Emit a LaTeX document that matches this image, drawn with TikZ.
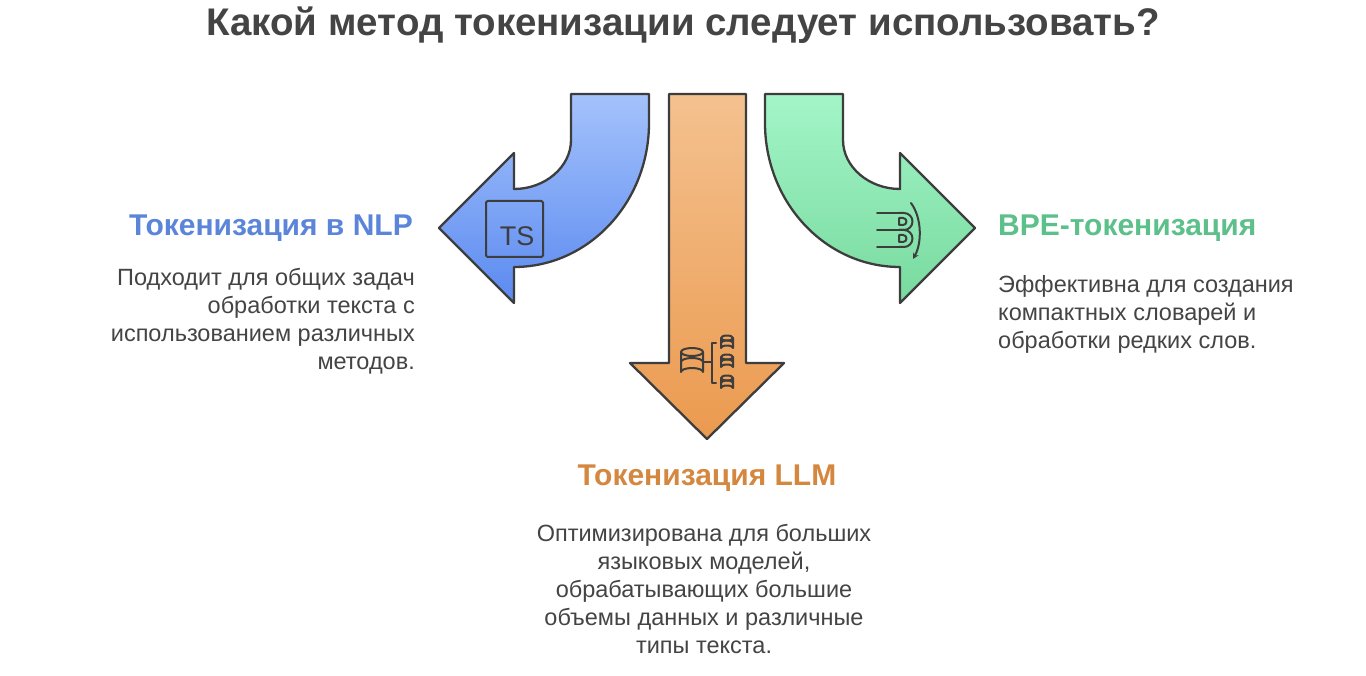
\documentclass[tikz,border=0pt]{standalone}
\usepackage{fontspec}
\setmainfont{Liberation Sans}
\usetikzlibrary{arrows.meta}
\definecolor{ink}{HTML}{444444}
\definecolor{edge}{HTML}{3D3D3D}
\definecolor{hblue}{HTML}{5B85D9}
\definecolor{hgreen}{HTML}{5CC08A}
\definecolor{horange}{HTML}{D4883F}
\tikzset{
  arr/.style={draw=edge,line width=2.3pt,line join=round},
  ico/.style={draw=edge,line width=2pt,line cap=round,line join=round},
  desc/.style={text=ink,font=\fontsize{23.5}{28}\selectfont,inner sep=0pt},
  head/.style={font=\fontsize{30}{32}\selectfont\bfseries,inner sep=0pt},
}
\begin{document}
\begin{tikzpicture}[x=1pt,y=-1pt]
\useasboundingbox[fill=white] (0,0) rectangle (1366,676);
\node[text=ink,font=\fontsize{38.5}{40}\selectfont\bfseries] (title) at (683,25) {Какой метод токенизации следует использовать?};
% blue arrow
\path[arr,top color={rgb,255:red,164;green,194;blue,251},bottom color={rgb,255:red,91;green,138;blue,240}]
 (571,94) -- (649,94) -- (649,123) .. controls (649,202) and (589,267) .. (514,267)
 -- (514,303) -- (439,228) -- (514,153) -- (514,189)
 .. controls (545,189) and (571,167) .. (571,140) -- cycle;
% green arrow
\path[arr,top color={rgb,255:red,163;green,245;blue,200},bottom color={rgb,255:red,120;green,218;blue,158}]
 (843,94) -- (765,94) -- (765,123) .. controls (765,202) and (825,267) .. (900,267)
 -- (900,303) -- (975,228) -- (900,153) -- (900,189)
 .. controls (869,189) and (843,167) .. (843,140) -- cycle;
% orange arrow
\path[arr,top color={rgb,255:red,244;green,193;blue,143},bottom color={rgb,255:red,235;green,154;blue,79}]
 (669,94) -- (746,94) -- (746,363) -- (784,363) -- (707,439) -- (630,363) -- (669,363) -- cycle;
% TS icon
\draw[ico,rounded corners=1.5pt] (486,201) rectangle (543,257);
\node[text=edge,font=\fontsize{27}{27}\selectfont,inner sep=0pt] (ts) at (517,236) {TS};
% DB icon
\draw[ico] (681,352) -- (681,372) arc[start angle=180,end angle=360,x radius=11,y radius=4] -- (703,352);
\draw[ico] (692,352) ellipse[x radius=11,y radius=4];
\draw[ico] (681,362) arc[start angle=180,end angle=360,x radius=11,y radius=4];
\draw[ico] (703,362) -- (712,362);
\draw[ico] (716,343) -- (712,343) -- (712,383) -- (716,383);
\foreach \yy in {343,362,383}{
  \draw[ico] (721,\yy-5) -- (721,\yy+5) arc[start angle=180,end angle=360,x radius=6,y radius=2.5] -- (733,\yy-5);
  \draw[ico] (727,\yy-5) ellipse[x radius=6,y radius=2.5];
  \draw[ico] (721,\yy) arc[start angle=180,end angle=360,x radius=6,y radius=2.5];
}
% BPE icon
\draw[ico] (877,213) -- (899,213) (877,230) -- (899,230) (877,247) -- (899,247);
\draw[ico] (899,213) -- (904,213) arc[start angle=-90,end angle=90,radius=8.5] -- (899,230);
\draw[ico] (899,230) -- (904,230) arc[start angle=-90,end angle=90,radius=8.5] -- (899,247);
\draw[ico] (899,218) -- (903,218) arc[start angle=-90,end angle=90,radius=3.5] -- (899,225) -- cycle;
\draw[ico] (899,235) -- (903,235) arc[start angle=-90,end angle=90,radius=3.5] -- (899,242) -- cycle;
\draw[ico,-{Stealth[length=6pt,width=6pt]}] (911,203) .. controls (922,218) and (922,243) .. (913,259);
% texts
\node[head,text=hblue,anchor=east] (h1) at (413,228) {Токенизация в NLP};
\node[desc,anchor=north east,align=right] (d1) at (415,268) {Подходит для общих задач\\обработки текста с\\использованием различных\\методов.};
\node[head,text=hgreen,anchor=west] (h2) at (998,228) {BPE-токенизация};
\node[desc,anchor=north west,align=left] (d2) at (998,275) {Эффективна для создания\\компактных словарей и\\обработки редких слов.};
\node[head,text=horange] (h3) at (707,478) {Токенизация LLM};
\node[desc,anchor=north,align=center] (d3) at (704,524) {Оптимизирована для больших\\языковых моделей,\\обрабатывающих большие\\объемы данных и различные\\типы текста.};
\end{tikzpicture}
\end{document}
